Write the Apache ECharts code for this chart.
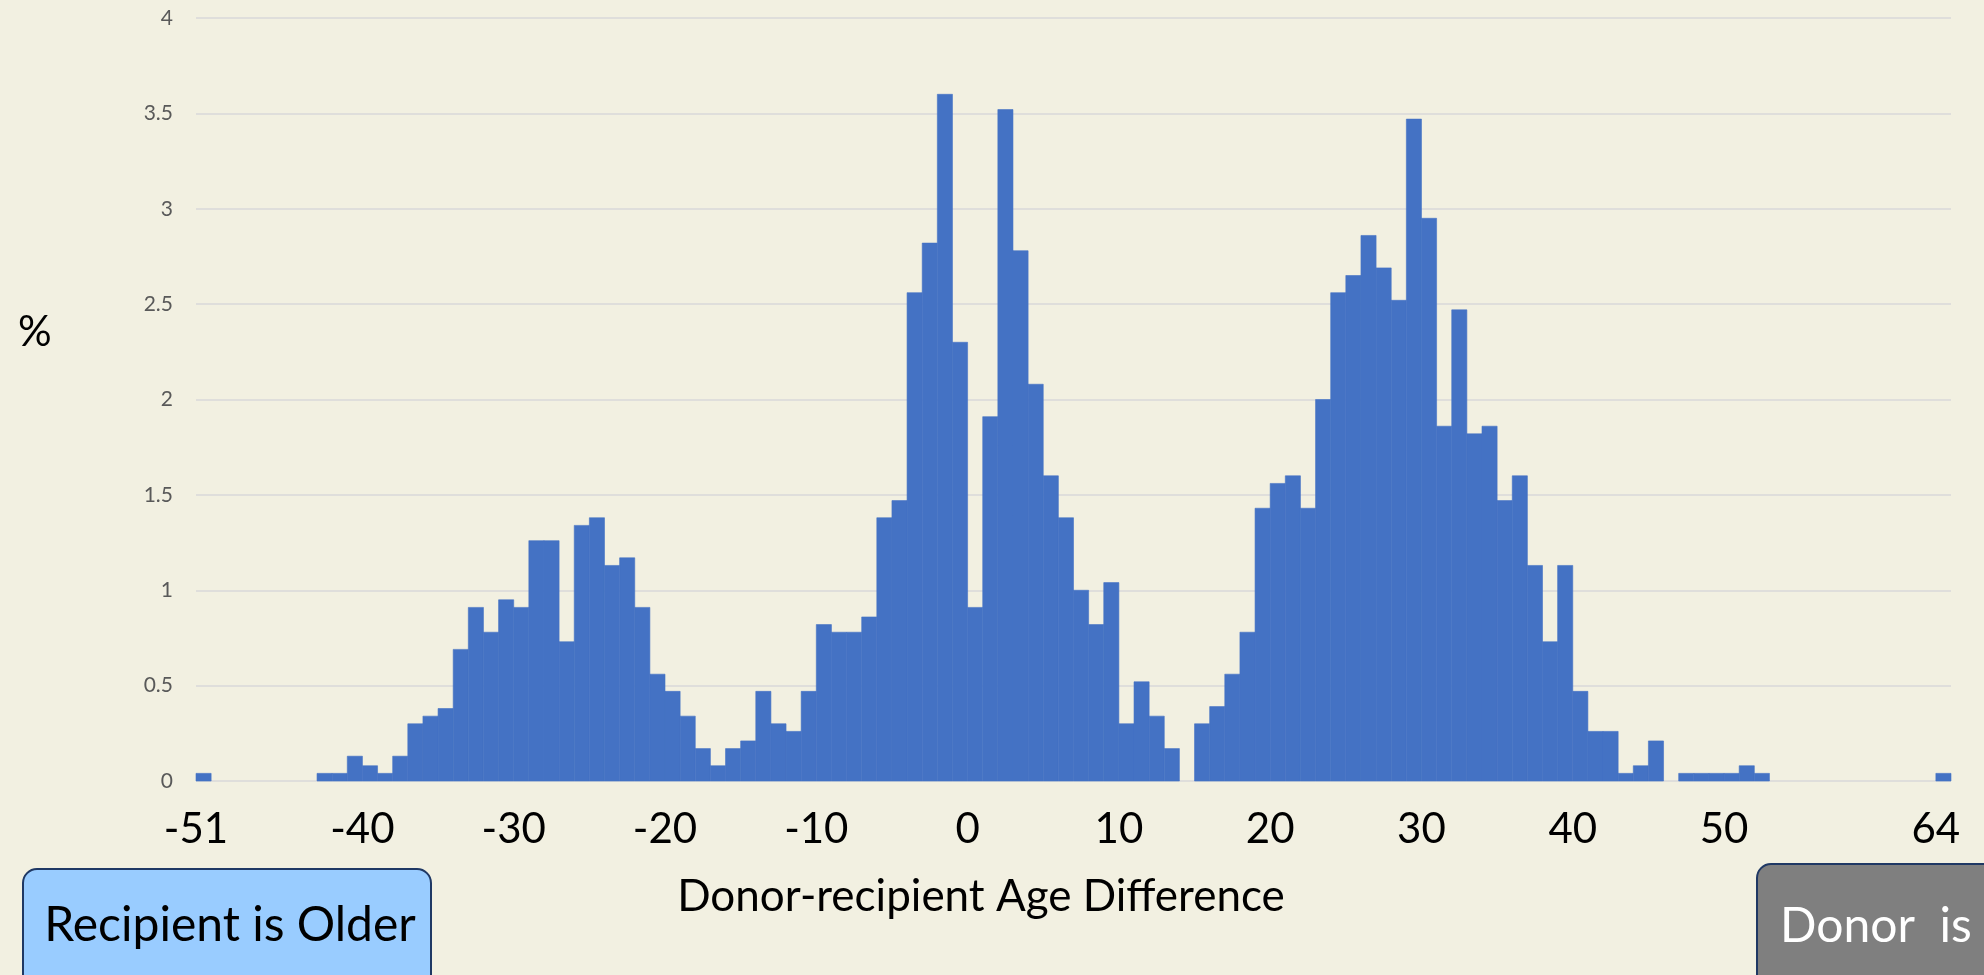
<!DOCTYPE html>
<html>
<head>
<meta charset="utf-8">
<title>Donor-recipient Age Difference</title>
<script src="https://cdn.jsdelivr.net/npm/echarts@6.0.0/dist/echarts.min.js"></script>
<style>
  html, body { margin: 0; padding: 0; background: #f2f0e1; }
  #chart { width: 1984px; height: 975px; }
</style>
</head>
<body>
<div id="chart"></div>
<script>
// 数据：每个年龄差一个柱（-51 到 64），数值为百分比
const ageStart = -51;
const percent = [
  0.04, 0, 0, 0, 0, 0, 0, 0, 0.04, 0.04,            // -51 .. -42
  0.13, 0.08, 0.04, 0.13, 0.30, 0.34, 0.38, 0.69, 0.91, 0.78, // -41 .. -32
  0.95, 0.91, 1.26, 1.26, 0.73, 1.34, 1.38, 1.13, 1.17, 0.91, // -31 .. -22
  0.56, 0.47, 0.34, 0.17, 0.08, 0.17, 0.21, 0.47, 0.30, 0.26, // -21 .. -12
  0.47, 0.82, 0.78, 0.78, 0.86, 1.38, 1.47, 2.56, 2.82, 3.60, // -11 .. -2
  2.30, 0.91, 1.91, 3.52, 2.78, 2.08, 1.60, 1.38, 1.00, 0.82, // -1 .. 8
  1.04, 0.30, 0.52, 0.34, 0.17, 0, 0.30, 0.39, 0.56, 0.78,    // 9 .. 18
  1.43, 1.56, 1.60, 1.43, 2.00, 2.56, 2.65, 2.86, 2.69, 2.52, // 19 .. 28
  3.47, 2.95, 1.86, 2.47, 1.82, 1.86, 1.47, 1.60, 1.13, 0.73, // 29 .. 38
  1.13, 0.47, 0.26, 0.26, 0.04, 0.08, 0.21, 0, 0.04, 0.04,    // 39 .. 48
  0.04, 0.04, 0.08, 0.04, 0, 0, 0, 0, 0, 0,                   // 49 .. 58
  0, 0, 0, 0, 0, 0.04                                          // 59 .. 64
];
const xTickLabels = [-51, -40, -30, -20, -10, 0, 10, 20, 30, 40, 50, 64];

const barColor = '#4472c4';
const font = 'Lato, "Open Sans", sans-serif';

const chart = echarts.init(document.getElementById('chart'));

const option = {
  backgroundColor: '#f2f0e1',
  animation: false,
  grid: { left: 196, right: 33, top: 18, bottom: 194 },
  xAxis: {
    type: 'value',
    min: ageStart,
    max: ageStart + percent.length,
    axisLine: { show: false },
    axisTick: { show: false },
    splitLine: { show: false },
    axisLabel: {
      customValues: xTickLabels,
      fontSize: 42,
      fontFamily: font,
      color: '#000',
      margin: 27
    }
  },
  yAxis: {
    type: 'value',
    min: 0,
    max: 4,
    interval: 0.5,
    axisLine: { show: false },
    axisTick: { show: false },
    axisLabel: { fontSize: 21, fontFamily: font, color: '#595959', margin: 23 },
    splitLine: { lineStyle: { color: '#d9d9d9', width: 1.5 } }
  },
  series: [{
    type: 'custom',
    data: percent.map((v, i) => [ageStart + i, ageStart + i + 1, v]),
    encode: { x: [0, 1], y: 2 },
    renderItem: (params, api) => {
      if (!(api.value(2) > 0)) return null; // 空柱不画，露出网格线
      const top = api.coord([api.value(0), api.value(2)]);
      const bottom = api.coord([api.value(1), 0]);
      return {
        type: 'rect',
        shape: { x: top[0], y: top[1], width: bottom[0] - top[0], height: bottom[1] - top[1] },
        style: { fill: barColor, stroke: barColor, lineWidth: 0.6 }
      };
    }
  }],
  graphic: [
    // y 轴单位
    {
      type: 'text', left: 18, top: 311,
      style: { text: '%', fontSize: 42, fontFamily: font, fill: '#000' }
    },
    // x 轴标题
    {
      type: 'text', x: 981, y: 897,
      style: { text: 'Donor-recipient Age Difference', fontSize: 44, fontFamily: font, fill: '#000', align: 'center', verticalAlign: 'middle' }
    },
    // 左下角说明框
    {
      type: 'rect',
      shape: { x: 23, y: 869, width: 408, height: 140, r: 14 },
      style: { fill: '#99ccff', stroke: '#1f3864', lineWidth: 2 }
    },
    {
      type: 'text', x: 230, y: 926,
      style: { text: 'Recipient is Older', fontSize: 48, fontFamily: font, fill: '#000', align: 'center', verticalAlign: 'middle' }
    },
    // 右下角说明框（被裁切）
    {
      type: 'rect',
      shape: { x: 1757, y: 864, width: 260, height: 140, r: 14 },
      style: { fill: '#7f7f7f', stroke: '#1f3864', lineWidth: 2 }
    },
    {
      type: 'text', x: 1780, y: 927,
      style: { text: 'Donor  is', fontSize: 48, fontFamily: font, fill: '#fff', align: 'left', verticalAlign: 'middle' }
    }
  ]
};

chart.setOption(option);
</script>
</body>
</html>
